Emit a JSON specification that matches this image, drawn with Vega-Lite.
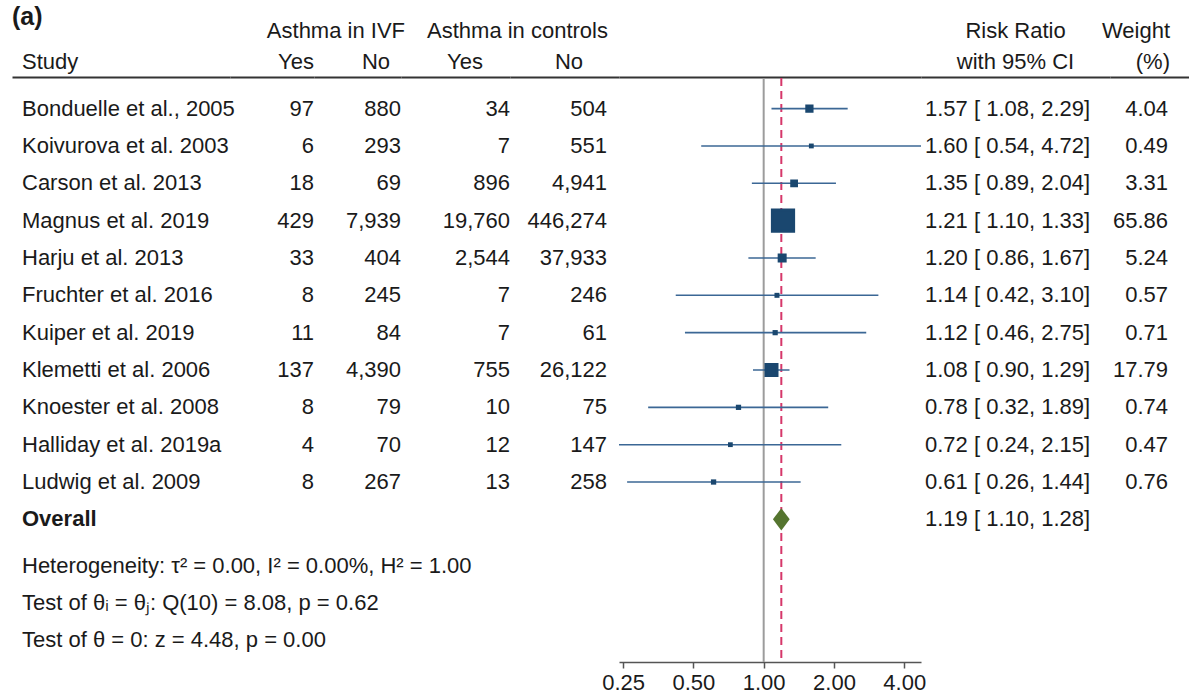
{
  "$schema": "https://vega.github.io/schema/vega-lite/v6.json",
  "padding": {"left": 12, "right": 0, "top": 0, "bottom": 0},
  "background": "white",
  "spacing": 0,
  "config": {
    "view": {"stroke": null},
    "text": {"font": "Liberation Sans", "fontSize": 22, "color": "#1a1a1a", "baseline": "middle"},
    "concat": {"spacing": 0}
  },
  "datasets": {
    "hdr": [
      {"row": "a", "col": "tag", "label": "(a)"},
      {"row": "h1", "col": "ivf", "label": "Asthma in IVF"},
      {"row": "h1", "col": "ctl", "label": "Asthma in controls"},
      {"row": "h2", "col": "study", "label": "Study"},
      {"row": "h2", "col": "ivf_yes", "label": "Yes"},
      {"row": "h2", "col": "ivf_no", "label": "No"},
      {"row": "h2", "col": "ctl_yes", "label": "Yes"},
      {"row": "h2", "col": "ctl_no", "label": "No"},
      {"row": "h1", "col": "rr", "label": "Risk Ratio"},
      {"row": "h2", "col": "rr", "label": "with 95% CI"},
      {"row": "h1", "col": "w", "label": "Weight"},
      {"row": "h2", "col": "w", "label": "(%)"}
    ],
    "studies": [
      {"study": "Bonduelle et al., 2005", "ivf_yes": 97, "ivf_no": 880, "ctl_yes": 34, "ctl_no": 504, "rr": 1.57, "lo": 1.08, "hi": 2.29, "ci": "1.57 [ 1.08,  2.29]", "weight": 4.04},
      {"study": "Koivurova et al. 2003", "ivf_yes": 6, "ivf_no": 293, "ctl_yes": 7, "ctl_no": 551, "rr": 1.60, "lo": 0.54, "hi": 4.72, "ci": "1.60 [ 0.54,  4.72]", "weight": 0.49},
      {"study": "Carson et al. 2013", "ivf_yes": 18, "ivf_no": 69, "ctl_yes": 896, "ctl_no": 4941, "rr": 1.35, "lo": 0.89, "hi": 2.04, "ci": "1.35 [ 0.89,  2.04]", "weight": 3.31},
      {"study": "Magnus et al. 2019", "ivf_yes": 429, "ivf_no": 7939, "ctl_yes": 19760, "ctl_no": 446274, "rr": 1.21, "lo": 1.10, "hi": 1.33, "ci": "1.21 [ 1.10,  1.33]", "weight": 65.86},
      {"study": "Harju et al. 2013", "ivf_yes": 33, "ivf_no": 404, "ctl_yes": 2544, "ctl_no": 37933, "rr": 1.20, "lo": 0.86, "hi": 1.67, "ci": "1.20 [ 0.86,  1.67]", "weight": 5.24},
      {"study": "Fruchter et al. 2016", "ivf_yes": 8, "ivf_no": 245, "ctl_yes": 7, "ctl_no": 246, "rr": 1.14, "lo": 0.42, "hi": 3.10, "ci": "1.14 [ 0.42,  3.10]", "weight": 0.57},
      {"study": "Kuiper et al. 2019", "ivf_yes": 11, "ivf_no": 84, "ctl_yes": 7, "ctl_no": 61, "rr": 1.12, "lo": 0.46, "hi": 2.75, "ci": "1.12 [ 0.46,  2.75]", "weight": 0.71},
      {"study": "Klemetti et al. 2006", "ivf_yes": 137, "ivf_no": 4390, "ctl_yes": 755, "ctl_no": 26122, "rr": 1.08, "lo": 0.90, "hi": 1.29, "ci": "1.08 [ 0.90,  1.29]", "weight": 17.79},
      {"study": "Knoester et al. 2008", "ivf_yes": 8, "ivf_no": 79, "ctl_yes": 10, "ctl_no": 75, "rr": 0.78, "lo": 0.32, "hi": 1.89, "ci": "0.78 [ 0.32,  1.89]", "weight": 0.74},
      {"study": "Halliday et al. 2019a", "ivf_yes": 4, "ivf_no": 70, "ctl_yes": 12, "ctl_no": 147, "rr": 0.72, "lo": 0.24, "hi": 2.15, "ci": "0.72 [ 0.24,  2.15]", "weight": 0.47},
      {"study": "Ludwig et al. 2009", "ivf_yes": 8, "ivf_no": 267, "ctl_yes": 13, "ctl_no": 258, "rr": 0.61, "lo": 0.26, "hi": 1.44, "ci": "0.61 [ 0.26,  1.44]", "weight": 0.76}
    ],
    "overall": [
      {"study": "Overall", "rr": 1.19, "lo": 1.10, "hi": 1.28, "ci": "1.19 [ 1.10,  1.28]"}
    ],
    "notes": [
      {"study": "het", "label": "Heterogeneity: τ² = 0.00, I² = 0.00%, H² = 1.00"},
      {"study": "t1", "label": "Test of θᵢ = θⱼ: Q(10) = 8.08, p = 0.62"},
      {"study": "t2", "label": "Test of θ = 0: z = 4.48, p = 0.00"}
    ],
    "nullref": [{"ref": 1}]
  },
  "vconcat": [
    {
      "spacing": 0,
      "bounds": "flush",
      "hconcat": [
        {
          "width": 218, "height": 77,
          "data": {"name": "hdr"},
          "encoding": {
            "y": {"field": "row", "type": "nominal", "scale": {"type": "point", "domain": ["a", "h1", "gap", "h2"], "padding": 1.067}, "axis": null},
            "text": {"field": "label", "type": "nominal"}
          },
          "layer": [
            {"transform": [{"filter": {"field": "col", "equal": "tag"}}],
             "mark": {"type": "text", "align": "left", "fontWeight": "bold", "fontSize": 25, "dy": 2},
             "encoding": {"x": {"datum": 0, "type": "quantitative", "scale": {"domain": [0, 1]}, "axis": {"domain": true, "domainColor": "#333333", "domainWidth": 2, "ticks": false, "labels": false, "grid": false, "title": null}}}},
            {"transform": [{"filter": {"field": "col", "equal": "study"}}],
             "mark": {"type": "text", "align": "left", "dx": 10},
             "encoding": {"x": {"datum": 0, "type": "quantitative"}}}
          ]
        },
        {
          "width": 84, "height": 77,
          "data": {"name": "hdr"},
          "transform": [{"filter": {"field": "col", "equal": "ivf_yes"}}],
          "mark": {"type": "text", "align": "right"},
          "encoding": {
            "x": {"datum": 1, "type": "quantitative", "scale": {"domain": [0, 1]}, "axis": {"domain": true, "domainColor": "#333333", "domainWidth": 2, "ticks": false, "labels": false, "grid": false, "title": null}},
            "y": {"field": "row", "type": "nominal", "scale": {"type": "point", "domain": ["a", "h1", "gap", "h2"], "padding": 1.067}, "axis": null},
            "text": {"field": "label", "type": "nominal"}
          }
        },
        {
          "width": 87, "height": 77,
          "data": {"name": "hdr"},
          "encoding": {
            "y": {"field": "row", "type": "nominal", "scale": {"type": "point", "domain": ["a", "h1", "gap", "h2"], "padding": 1.067}, "axis": null},
            "text": {"field": "label", "type": "nominal"}
          },
          "layer": [
            {"transform": [{"filter": {"field": "col", "equal": "ivf_no"}}],
             "mark": {"type": "text", "align": "right", "dx": -11},
             "encoding": {"x": {"datum": 1, "type": "quantitative", "scale": {"domain": [0, 1]}, "axis": {"domain": true, "domainColor": "#333333", "domainWidth": 2, "ticks": false, "labels": false, "grid": false, "title": null}}}},
            {"transform": [{"filter": {"field": "col", "equal": "ivf"}}],
             "mark": {"type": "text", "align": "right", "dx": 4},
             "encoding": {"x": {"datum": 1, "type": "quantitative"}}}
          ]
        },
        {
          "width": 109, "height": 77,
          "data": {"name": "hdr"},
          "transform": [{"filter": {"field": "col", "equal": "ctl_yes"}}],
          "mark": {"type": "text", "align": "right", "dx": -27},
          "encoding": {
            "x": {"datum": 1, "type": "quantitative", "scale": {"domain": [0, 1]}, "axis": {"domain": true, "domainColor": "#333333", "domainWidth": 2, "ticks": false, "labels": false, "grid": false, "title": null}},
            "y": {"field": "row", "type": "nominal", "scale": {"type": "point", "domain": ["a", "h1", "gap", "h2"], "padding": 1.067}, "axis": null},
            "text": {"field": "label", "type": "nominal"}
          }
        },
        {
          "width": 109, "height": 77,
          "data": {"name": "hdr"},
          "encoding": {
            "y": {"field": "row", "type": "nominal", "scale": {"type": "point", "domain": ["a", "h1", "gap", "h2"], "padding": 1.067}, "axis": null},
            "text": {"field": "label", "type": "nominal"}
          },
          "layer": [
            {"transform": [{"filter": {"field": "col", "equal": "ctl_no"}}],
             "mark": {"type": "text", "align": "right", "dx": -36},
             "encoding": {"x": {"datum": 1, "type": "quantitative", "scale": {"domain": [0, 1]}, "axis": {"domain": true, "domainColor": "#333333", "domainWidth": 2, "ticks": false, "labels": false, "grid": false, "title": null}}}},
            {"transform": [{"filter": {"field": "col", "equal": "ctl"}}],
             "mark": {"type": "text", "align": "right", "dx": -11},
             "encoding": {"x": {"datum": 1, "type": "quantitative"}}}
          ]
        },
        {
          "width": 302, "height": 77,
          "data": {"name": "hdr"},
          "transform": [{"filter": {"field": "col", "equal": "forest"}}],
          "mark": {"type": "text", "align": "center"},
          "encoding": {
            "x": {"datum": 0.5, "type": "quantitative", "scale": {"domain": [0, 1]}, "axis": {"domain": true, "domainColor": "#333333", "domainWidth": 2, "ticks": false, "labels": false, "grid": false, "title": null}},
            "y": {"field": "row", "type": "nominal", "scale": {"type": "point", "domain": ["a", "h1", "gap", "h2"], "padding": 1.067}, "axis": null},
            "text": {"field": "label", "type": "nominal"}
          }
        },
        {
          "width": 189, "height": 77,
          "data": {"name": "hdr"},
          "transform": [{"filter": {"field": "col", "equal": "rr"}}],
          "mark": {"type": "text", "align": "center"},
          "encoding": {
            "x": {"datum": 0.5, "type": "quantitative", "scale": {"domain": [0, 1]}, "axis": {"domain": true, "domainColor": "#333333", "domainWidth": 2, "ticks": false, "labels": false, "grid": false, "title": null}},
            "y": {"field": "row", "type": "nominal", "scale": {"type": "point", "domain": ["a", "h1", "gap", "h2"], "padding": 1.067}, "axis": null},
            "text": {"field": "label", "type": "nominal"}
          }
        },
        {
          "width": 79, "height": 77,
          "data": {"name": "hdr"},
          "transform": [{"filter": {"field": "col", "equal": "w"}}],
          "mark": {"type": "text", "align": "right", "dx": -19},
          "encoding": {
            "x": {"datum": 1, "type": "quantitative", "scale": {"domain": [0, 1]}, "axis": {"domain": true, "domainColor": "#333333", "domainWidth": 2, "ticks": false, "labels": false, "grid": false, "title": null}},
            "y": {"field": "row", "type": "nominal", "scale": {"type": "point", "domain": ["a", "h1", "gap", "h2"], "padding": 1.067}, "axis": null},
            "text": {"field": "label", "type": "nominal"}
          }
        }
      ]
    },
    {
      "spacing": 0,
      "bounds": "flush",
      "hconcat": [
        {
          "width": 218, "height": 584,
          "encoding": {
            "y": {"field": "study", "type": "nominal", "scale": {"type": "point", "domain": ["Bonduelle et al., 2005", "Koivurova et al. 2003", "Carson et al. 2013", "Magnus et al. 2019", "Harju et al. 2013", "Fruchter et al. 2016", "Kuiper et al. 2019", "Klemetti et al. 2006", "Knoester et al. 2008", "Halliday et al. 2019a", "Ludwig et al. 2009", "Overall", "het", "t1", "t2"], "padding": 0.82}, "axis": null},
            "x": {"datum": 0, "type": "quantitative", "scale": {"domain": [0, 1]}, "axis": null}
          },
          "layer": [
            {"data": {"name": "studies"},
             "mark": {"type": "text", "align": "left", "dx": 10},
             "encoding": {"text": {"field": "study", "type": "nominal"}}},
            {"data": {"name": "overall"},
             "mark": {"type": "text", "align": "left", "dx": 10, "fontWeight": "bold"},
             "encoding": {"text": {"field": "study", "type": "nominal"}}},
            {"data": {"name": "notes"},
             "mark": {"type": "text", "align": "left", "dx": 10, "dy": 9},
             "encoding": {"text": {"field": "label", "type": "nominal"}}}
          ]
        },
        {
          "width": 84, "height": 584,
          "data": {"name": "studies"},
          "mark": {"type": "text", "align": "right"},
          "encoding": {
            "y": {"field": "study", "type": "nominal", "scale": {"type": "point", "domain": ["Bonduelle et al., 2005", "Koivurova et al. 2003", "Carson et al. 2013", "Magnus et al. 2019", "Harju et al. 2013", "Fruchter et al. 2016", "Kuiper et al. 2019", "Klemetti et al. 2006", "Knoester et al. 2008", "Halliday et al. 2019a", "Ludwig et al. 2009", "Overall", "het", "t1", "t2"], "padding": 0.82}, "axis": null},
            "x": {"datum": 1, "type": "quantitative", "scale": {"domain": [0, 1]}, "axis": null},
            "text": {"field": "ivf_yes", "type": "quantitative", "format": ",d"}
          }
        },
        {
          "width": 87, "height": 584,
          "data": {"name": "studies"},
          "mark": {"type": "text", "align": "right"},
          "encoding": {
            "y": {"field": "study", "type": "nominal", "scale": {"type": "point", "domain": ["Bonduelle et al., 2005", "Koivurova et al. 2003", "Carson et al. 2013", "Magnus et al. 2019", "Harju et al. 2013", "Fruchter et al. 2016", "Kuiper et al. 2019", "Klemetti et al. 2006", "Knoester et al. 2008", "Halliday et al. 2019a", "Ludwig et al. 2009", "Overall", "het", "t1", "t2"], "padding": 0.82}, "axis": null},
            "x": {"datum": 1, "type": "quantitative", "scale": {"domain": [0, 1]}, "axis": null},
            "text": {"field": "ivf_no", "type": "quantitative", "format": ",d"}
          }
        },
        {
          "width": 109, "height": 584,
          "data": {"name": "studies"},
          "mark": {"type": "text", "align": "right"},
          "encoding": {
            "y": {"field": "study", "type": "nominal", "scale": {"type": "point", "domain": ["Bonduelle et al., 2005", "Koivurova et al. 2003", "Carson et al. 2013", "Magnus et al. 2019", "Harju et al. 2013", "Fruchter et al. 2016", "Kuiper et al. 2019", "Klemetti et al. 2006", "Knoester et al. 2008", "Halliday et al. 2019a", "Ludwig et al. 2009", "Overall", "het", "t1", "t2"], "padding": 0.82}, "axis": null},
            "x": {"datum": 1, "type": "quantitative", "scale": {"domain": [0, 1]}, "axis": null},
            "text": {"field": "ctl_yes", "type": "quantitative", "format": ",d"}
          }
        },
        {
          "width": 109, "height": 584,
          "data": {"name": "studies"},
          "mark": {"type": "text", "align": "right", "dx": -12},
          "encoding": {
            "y": {"field": "study", "type": "nominal", "scale": {"type": "point", "domain": ["Bonduelle et al., 2005", "Koivurova et al. 2003", "Carson et al. 2013", "Magnus et al. 2019", "Harju et al. 2013", "Fruchter et al. 2016", "Kuiper et al. 2019", "Klemetti et al. 2006", "Knoester et al. 2008", "Halliday et al. 2019a", "Ludwig et al. 2009", "Overall", "het", "t1", "t2"], "padding": 0.82}, "axis": null},
            "x": {"datum": 1, "type": "quantitative", "scale": {"domain": [0, 1]}, "axis": null},
            "text": {"field": "ctl_no", "type": "quantitative", "format": ",d"}
          }
        },
        {
          "width": 302, "height": 584,
          "layer": [
            {"data": {"name": "nullref"},
             "mark": {"type": "rule", "color": "#9c9c9c", "strokeWidth": 2},
             "encoding": {"x": {"field": "ref", "type": "quantitative", "scale": {"type": "log", "domain": [0.24, 4.72], "nice": false}, "axis": {"values": [0.25, 0.5, 1, 2, 4], "format": ".2f", "labelFont": "Liberation Sans", "labelFontSize": 22, "labelColor": "#1a1a1a", "labelFlush": false, "labelOverlap": false, "labelPadding": 4, "domainColor": "#555555", "domainWidth": 1.5, "tickColor": "#555555", "tickWidth": 1.5, "tickSize": 6, "grid": false, "title": null}}}},
            {"data": {"name": "overall"},
             "mark": {"type": "rule", "color": "#d6376a", "strokeWidth": 2, "strokeDash": [8, 5]},
             "encoding": {"x": {"field": "rr", "type": "quantitative"}}},
            {"data": {"name": "studies"},
             "mark": {"type": "rule", "color": "#3b6795", "strokeWidth": 1.6},
             "encoding": {
               "x": {"field": "lo", "type": "quantitative"},
               "x2": {"field": "hi"},
               "y": {"field": "study", "type": "nominal", "scale": {"type": "point", "domain": ["Bonduelle et al., 2005", "Koivurova et al. 2003", "Carson et al. 2013", "Magnus et al. 2019", "Harju et al. 2013", "Fruchter et al. 2016", "Kuiper et al. 2019", "Klemetti et al. 2006", "Knoester et al. 2008", "Halliday et al. 2019a", "Ludwig et al. 2009", "Overall", "het", "t1", "t2"], "padding": 0.82}, "axis": null}
             }},
            {"data": {"name": "studies"},
             "mark": {"type": "point", "shape": "square", "filled": true, "color": "#1a476f", "stroke": "#1a476f", "strokeWidth": 3, "opacity": 1},
             "encoding": {
               "x": {"field": "rr", "type": "quantitative"},
               "y": {"field": "study", "type": "nominal"},
               "size": {"field": "weight", "type": "quantitative", "scale": {"domain": [0, 65.86], "range": [0, 450]}, "legend": null}
             }},
            {"data": {"name": "overall"},
             "mark": {"type": "point", "shape": "M0,-1L0.75,0L0,1L-0.75,0Z", "filled": true, "color": "#55752f", "size": 500, "opacity": 1},
             "encoding": {
               "x": {"field": "rr", "type": "quantitative"},
               "y": {"field": "study", "type": "nominal"}
             }}
          ]
        },
        {
          "width": 189, "height": 584,
          "encoding": {
            "y": {"field": "study", "type": "nominal", "scale": {"type": "point", "domain": ["Bonduelle et al., 2005", "Koivurova et al. 2003", "Carson et al. 2013", "Magnus et al. 2019", "Harju et al. 2013", "Fruchter et al. 2016", "Kuiper et al. 2019", "Klemetti et al. 2006", "Knoester et al. 2008", "Halliday et al. 2019a", "Ludwig et al. 2009", "Overall", "het", "t1", "t2"], "padding": 0.82}, "axis": null},
            "x": {"datum": 0, "type": "quantitative", "scale": {"domain": [0, 1]}, "axis": null},
            "text": {"field": "ci", "type": "nominal"}
          },
          "layer": [
            {"data": {"name": "studies"}, "mark": {"type": "text", "align": "left", "dx": 4}},
            {"data": {"name": "overall"}, "mark": {"type": "text", "align": "left", "dx": 4}}
          ]
        },
        {
          "width": 79, "height": 584,
          "data": {"name": "studies"},
          "mark": {"type": "text", "align": "right", "dx": -21},
          "encoding": {
            "y": {"field": "study", "type": "nominal", "scale": {"type": "point", "domain": ["Bonduelle et al., 2005", "Koivurova et al. 2003", "Carson et al. 2013", "Magnus et al. 2019", "Harju et al. 2013", "Fruchter et al. 2016", "Kuiper et al. 2019", "Klemetti et al. 2006", "Knoester et al. 2008", "Halliday et al. 2019a", "Ludwig et al. 2009", "Overall", "het", "t1", "t2"], "padding": 0.82}, "axis": null},
            "x": {"datum": 1, "type": "quantitative", "scale": {"domain": [0, 1]}, "axis": null},
            "text": {"field": "weight", "type": "quantitative", "format": ".2f"}
          }
        }
      ]
    }
  ]
}
